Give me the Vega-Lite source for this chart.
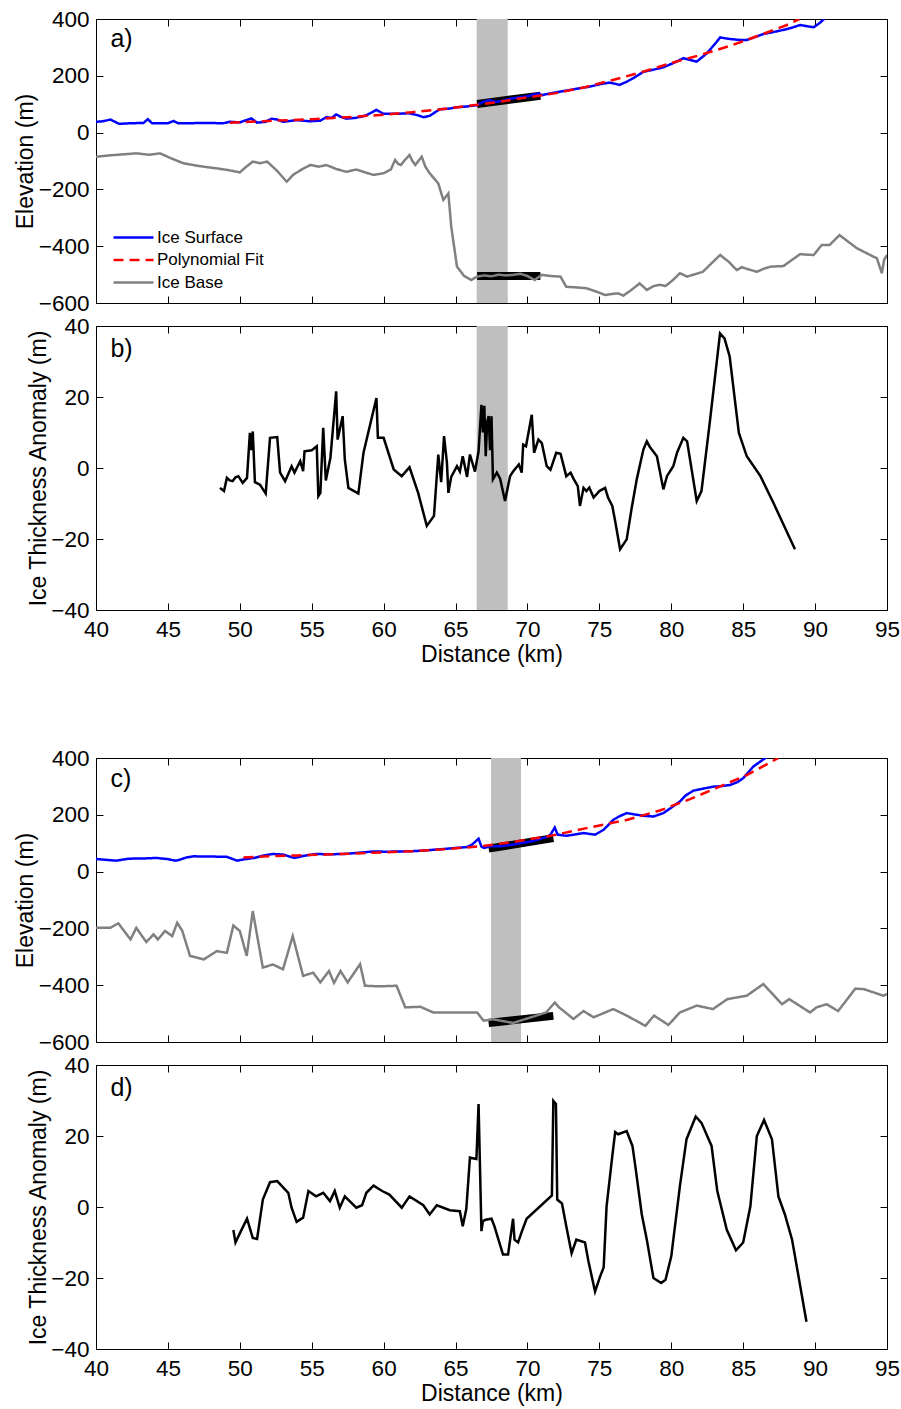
{
  "$schema": "https://vega.github.io/schema/vega-lite/v6.json",
  "padding": {"left": 13, "top": 7, "right": 5, "bottom": 5},
  "background": "white",
  "config": {
    "font": "Liberation Sans",
    "view": {"stroke": "black", "strokeWidth": 1},
    "axis": {"grid": false, "domain": false, "tickColor": "black", "tickWidth": 1, "tickSize": -7, "labelFontSize": 22.5, "labelFont": "Liberation Sans", "labelColor": "black", "titleFont": "Liberation Sans", "titleFontSize": 23, "titleFontWeight": "normal", "titleColor": "black", "labelFlush": false, "labelOverlap": false, "labelPadding": 14},
    "axisX": {"labelPadding": 15},
    "legend": {"orient": "none", "legendX": 29, "legendY": 210, "labelFontSize": 17, "labelFont": "Liberation Sans", "labelColor": "black", "symbolType": "M-4,0H4", "symbolSize": 100, "symbolStrokeWidth": 2.5, "labelOffset": 15, "rowPadding": 4.5, "padding": 0}
  },
  "datasets": {
    "band_ab": [{"x0": 66.47, "x1": 68.63}],
    "band_cd": [{"x0": 67.47, "x1": 69.55}],
    "bars_a": [
      {"seg": "surface", "km": 66.5, "v": 101}, {"seg": "surface", "km": 70.9, "v": 130},
      {"seg": "base", "km": 66.5, "v": -505}, {"seg": "base", "km": 70.9, "v": -505}
    ],
    "bars_c": [
      {"seg": "surface", "km": 67.3, "v": 81}, {"seg": "surface", "km": 71.8, "v": 118},
      {"seg": "base", "km": 67.3, "v": -533}, {"seg": "base", "km": 71.8, "v": -508}
    ],
    "lines_a": [
      {"series":"Ice Base","km":40.0,"v":-85},{"series":"Ice Base","km":41.0,"v":-80},{"series":"Ice Base","km":42.8,"v":-73},{"series":"Ice Base","km":43.7,"v":-78},{"series":"Ice Base","km":44.45,"v":-73},{"series":"Ice Base","km":45.2,"v":-90},{"series":"Ice Base","km":46.07,"v":-108},{"series":"Ice Base","km":47.2,"v":-118},{"series":"Ice Base","km":48.4,"v":-126},{"series":"Ice Base","km":49.2,"v":-132},{"series":"Ice Base","km":50.0,"v":-140},{"series":"Ice Base","km":50.5,"v":-118},{"series":"Ice Base","km":50.9,"v":-102},{"series":"Ice Base","km":51.4,"v":-108},{"series":"Ice Base","km":51.9,"v":-102},{"series":"Ice Base","km":52.6,"v":-135},{"series":"Ice Base","km":53.26,"v":-173},{"series":"Ice Base","km":53.7,"v":-149},{"series":"Ice Base","km":54.3,"v":-130},{"series":"Ice Base","km":54.9,"v":-114},{"series":"Ice Base","km":55.5,"v":-120},{"series":"Ice Base","km":56.0,"v":-114},{"series":"Ice Base","km":56.7,"v":-128},{"series":"Ice Base","km":57.4,"v":-138},{"series":"Ice Base","km":58.1,"v":-130},{"series":"Ice Base","km":58.7,"v":-140},{"series":"Ice Base","km":59.3,"v":-149},{"series":"Ice Base","km":60.0,"v":-143},{"series":"Ice Base","km":60.5,"v":-130},{"series":"Ice Base","km":60.8,"v":-96},{"series":"Ice Base","km":61.0,"v":-110},{"series":"Ice Base","km":61.2,"v":-114},{"series":"Ice Base","km":61.5,"v":-95},{"series":"Ice Base","km":61.8,"v":-79},{"series":"Ice Base","km":62.0,"v":-100},{"series":"Ice Base","km":62.2,"v":-114},{"series":"Ice Base","km":62.65,"v":-85},{"series":"Ice Base","km":62.9,"v":-120},{"series":"Ice Base","km":63.2,"v":-143},{"series":"Ice Base","km":63.8,"v":-179},{"series":"Ice Base","km":64.15,"v":-237},{"series":"Ice Base","km":64.5,"v":-214},{"series":"Ice Base","km":64.7,"v":-331},{"series":"Ice Base","km":65.1,"v":-472},{"series":"Ice Base","km":65.6,"v":-505},{"series":"Ice Base","km":66.1,"v":-519},{"series":"Ice Base","km":66.5,"v":-507},{"series":"Ice Base","km":67.0,"v":-503},{"series":"Ice Base","km":67.5,"v":-506},{"series":"Ice Base","km":68.0,"v":-500},{"series":"Ice Base","km":68.5,"v":-503},{"series":"Ice Base","km":69.0,"v":-501},{"series":"Ice Base","km":69.5,"v":-497},{"series":"Ice Base","km":70.0,"v":-505},{"series":"Ice Base","km":70.5,"v":-519},{"series":"Ice Base","km":71.0,"v":-501},{"series":"Ice Base","km":71.6,"v":-505},{"series":"Ice Base","km":72.3,"v":-507},{"series":"Ice Base","km":72.7,"v":-543},{"series":"Ice Base","km":73.4,"v":-545},{"series":"Ice Base","km":74.1,"v":-548},{"series":"Ice Base","km":74.8,"v":-560},{"series":"Ice Base","km":75.4,"v":-572},{"series":"Ice Base","km":75.9,"v":-568},{"series":"Ice Base","km":76.3,"v":-566},{"series":"Ice Base","km":76.67,"v":-574},{"series":"Ice Base","km":77.2,"v":-555},{"series":"Ice Base","km":77.8,"v":-531},{"series":"Ice Base","km":78.3,"v":-554},{"series":"Ice Base","km":78.8,"v":-540},{"series":"Ice Base","km":79.2,"v":-536},{"series":"Ice Base","km":79.6,"v":-540},{"series":"Ice Base","km":80.1,"v":-520},{"series":"Ice Base","km":80.6,"v":-495},{"series":"Ice Base","km":81.1,"v":-507},{"series":"Ice Base","km":81.7,"v":-498},{"series":"Ice Base","km":82.2,"v":-490},{"series":"Ice Base","km":82.8,"v":-460},{"series":"Ice Base","km":83.4,"v":-431},{"series":"Ice Base","km":84.0,"v":-455},{"series":"Ice Base","km":84.55,"v":-484},{"series":"Ice Base","km":84.9,"v":-474},{"series":"Ice Base","km":85.4,"v":-482},{"series":"Ice Base","km":85.95,"v":-490},{"series":"Ice Base","km":86.4,"v":-480},{"series":"Ice Base","km":86.9,"v":-472},{"series":"Ice Base","km":87.8,"v":-470},{"series":"Ice Base","km":88.4,"v":-448},{"series":"Ice Base","km":88.96,"v":-428},{"series":"Ice Base","km":89.5,"v":-430},{"series":"Ice Base","km":89.9,"v":-431},{"series":"Ice Base","km":90.46,"v":-396},{"series":"Ice Base","km":91.0,"v":-396},{"series":"Ice Base","km":91.7,"v":-361},{"series":"Ice Base","km":92.3,"v":-384},{"series":"Ice Base","km":92.9,"v":-407},{"series":"Ice Base","km":93.6,"v":-425},{"series":"Ice Base","km":94.3,"v":-443},{"series":"Ice Base","km":94.64,"v":-495},{"series":"Ice Base","km":94.8,"v":-448},{"series":"Ice Base","km":95.0,"v":-431},
      {"series":"Ice Surface","km":40.0,"v":38},{"series":"Ice Surface","km":40.5,"v":40},{"series":"Ice Surface","km":41.0,"v":46},{"series":"Ice Surface","km":41.6,"v":31},{"series":"Ice Surface","km":42.5,"v":33},{"series":"Ice Surface","km":43.3,"v":34},{"series":"Ice Surface","km":43.6,"v":47},{"series":"Ice Surface","km":43.9,"v":33},{"series":"Ice Surface","km":45.0,"v":33},{"series":"Ice Surface","km":45.4,"v":41},{"series":"Ice Surface","km":45.7,"v":33},{"series":"Ice Surface","km":46.5,"v":33},{"series":"Ice Surface","km":47.5,"v":34},{"series":"Ice Surface","km":48.85,"v":33},{"series":"Ice Surface","km":49.3,"v":38},{"series":"Ice Surface","km":50.0,"v":36},{"series":"Ice Surface","km":50.8,"v":50},{"series":"Ice Surface","km":51.2,"v":35},{"series":"Ice Surface","km":51.8,"v":38},{"series":"Ice Surface","km":52.2,"v":49},{"series":"Ice Surface","km":52.6,"v":46},{"series":"Ice Surface","km":53.0,"v":38},{"series":"Ice Surface","km":54.0,"v":44},{"series":"Ice Surface","km":54.8,"v":40},{"series":"Ice Surface","km":55.6,"v":42},{"series":"Ice Surface","km":56.0,"v":54},{"series":"Ice Surface","km":56.4,"v":52},{"series":"Ice Surface","km":56.7,"v":64},{"series":"Ice Surface","km":57.0,"v":56},{"series":"Ice Surface","km":57.4,"v":49},{"series":"Ice Surface","km":58.1,"v":52},{"series":"Ice Surface","km":58.8,"v":61},{"series":"Ice Surface","km":59.5,"v":80},{"series":"Ice Surface","km":60.0,"v":66},{"series":"Ice Surface","km":60.8,"v":66},{"series":"Ice Surface","km":61.8,"v":68},{"series":"Ice Surface","km":62.3,"v":62},{"series":"Ice Surface","km":62.8,"v":54},{"series":"Ice Surface","km":63.2,"v":59},{"series":"Ice Surface","km":63.9,"v":82},{"series":"Ice Surface","km":64.5,"v":84},{"series":"Ice Surface","km":65.1,"v":89},{"series":"Ice Surface","km":65.8,"v":92},{"series":"Ice Surface","km":66.5,"v":97},{"series":"Ice Surface","km":67.0,"v":110},{"series":"Ice Surface","km":67.4,"v":114},{"series":"Ice Surface","km":67.8,"v":108},{"series":"Ice Surface","km":68.3,"v":112},{"series":"Ice Surface","km":69.0,"v":121},{"series":"Ice Surface","km":70.0,"v":128},{"series":"Ice Surface","km":70.76,"v":138},{"series":"Ice Surface","km":71.0,"v":132},{"series":"Ice Surface","km":71.8,"v":140},{"series":"Ice Surface","km":72.7,"v":148},{"series":"Ice Surface","km":73.5,"v":155},{"series":"Ice Surface","km":74.35,"v":162},{"series":"Ice Surface","km":75.0,"v":170},{"series":"Ice Surface","km":75.7,"v":176},{"series":"Ice Surface","km":76.1,"v":172},{"series":"Ice Surface","km":76.4,"v":168},{"series":"Ice Surface","km":76.9,"v":179},{"series":"Ice Surface","km":77.5,"v":196},{"series":"Ice Surface","km":78.06,"v":214},{"series":"Ice Surface","km":78.8,"v":222},{"series":"Ice Surface","km":79.45,"v":230},{"series":"Ice Surface","km":80.2,"v":246},{"series":"Ice Surface","km":80.84,"v":262},{"series":"Ice Surface","km":81.3,"v":256},{"series":"Ice Surface","km":81.77,"v":250},{"series":"Ice Surface","km":82.47,"v":279},{"series":"Ice Surface","km":83.0,"v":310},{"series":"Ice Surface","km":83.4,"v":335},{"series":"Ice Surface","km":84.0,"v":330},{"series":"Ice Surface","km":84.8,"v":326},{"series":"Ice Surface","km":85.25,"v":326},{"series":"Ice Surface","km":85.8,"v":336},{"series":"Ice Surface","km":86.4,"v":347},{"series":"Ice Surface","km":87.0,"v":353},{"series":"Ice Surface","km":87.57,"v":359},{"series":"Ice Surface","km":88.3,"v":368},{"series":"Ice Surface","km":88.96,"v":379},{"series":"Ice Surface","km":89.5,"v":374},{"series":"Ice Surface","km":89.9,"v":371},{"series":"Ice Surface","km":90.3,"v":385},{"series":"Ice Surface","km":90.8,"v":408},
      {"series":"Polynomial Fit","km":49.3,"v":35},{"series":"Polynomial Fit","km":52,"v":41},{"series":"Polynomial Fit","km":55,"v":47},{"series":"Polynomial Fit","km":58,"v":56},{"series":"Polynomial Fit","km":60,"v":63},{"series":"Polynomial Fit","km":62,"v":72},{"series":"Polynomial Fit","km":64,"v":82},{"series":"Polynomial Fit","km":66,"v":95},{"series":"Polynomial Fit","km":68,"v":108},{"series":"Polynomial Fit","km":70,"v":124},{"series":"Polynomial Fit","km":72,"v":139},{"series":"Polynomial Fit","km":74,"v":160},{"series":"Polynomial Fit","km":76,"v":186},{"series":"Polynomial Fit","km":78,"v":214},{"series":"Polynomial Fit","km":80,"v":245},{"series":"Polynomial Fit","km":82,"v":273},{"series":"Polynomial Fit","km":84,"v":304},{"series":"Polynomial Fit","km":86,"v":340},{"series":"Polynomial Fit","km":88,"v":378},{"series":"Polynomial Fit","km":88.9,"v":400}
    ],
    "anom_b": [
      {"km":48.62,"v":-5.6},{"km":48.9,"v":-6.5},{"km":49.1,"v":-2.8},{"km":49.3,"v":-3.5},{"km":49.5,"v":-3.7},{"km":49.7,"v":-2.6},{"km":49.9,"v":-2.3},{"km":50.2,"v":-4.2},{"km":50.5,"v":-2.8},{"km":50.7,"v":9.9},{"km":50.8,"v":5},{"km":50.9,"v":10.3},{"km":51.05,"v":-4},{"km":51.4,"v":-4.7},{"km":51.8,"v":-7.2},{"km":52.1,"v":8.5},{"km":52.6,"v":8.7},{"km":52.8,"v":-1.3},{"km":53.15,"v":-3.7},{"km":53.6,"v":0.5},{"km":53.8,"v":-1.3},{"km":54.2,"v":1.9},{"km":54.4,"v":-0.9},{"km":54.5,"v":4.7},{"km":55.0,"v":5},{"km":55.35,"v":6.1},{"km":55.46,"v":-7.9},{"km":55.6,"v":-7},{"km":55.8,"v":11.3},{"km":55.98,"v":-3.5},{"km":56.3,"v":2.9},{"km":56.7,"v":21.6},{"km":56.8,"v":8},{"km":57.15,"v":14.6},{"km":57.3,"v":2.4},{"km":57.55,"v":-5.6},{"km":58.24,"v":-7.2},{"km":58.6,"v":4.3},{"km":59.5,"v":19.7},{"km":59.6,"v":8.5},{"km":60.0,"v":8.5},{"km":60.7,"v":-0.4},{"km":61.26,"v":-2.3},{"km":61.8,"v":0.2},{"km":62.4,"v":-7},{"km":63.0,"v":-16.3},{"km":63.5,"v":-13.5},{"km":63.8,"v":3.8},{"km":64.0,"v":-4},{"km":64.2,"v":9},{"km":64.4,"v":1.5},{"km":64.5,"v":-7},{"km":64.7,"v":-2.5},{"km":65.1,"v":0.5},{"km":65.3,"v":-1},{"km":65.5,"v":3.3},{"km":65.8,"v":-2.5},{"km":66.0,"v":3.8},{"km":66.35,"v":-1},{"km":66.6,"v":4.7},{"km":66.8,"v":17.8},{"km":66.9,"v":10},{"km":67.0,"v":17.5},{"km":67.1,"v":3.3},{"km":67.2,"v":13},{"km":67.3,"v":14.6},{"km":67.4,"v":5},{"km":67.5,"v":14.6},{"km":67.6,"v":-3.2},{"km":67.87,"v":-1.3},{"km":68.1,"v":-3},{"km":68.44,"v":-9.3},{"km":68.79,"v":-2.3},{"km":69.0,"v":-1},{"km":69.4,"v":1},{"km":69.6,"v":-1.3},{"km":69.7,"v":6.6},{"km":69.9,"v":6.1},{"km":70.3,"v":15},{"km":70.46,"v":4.3},{"km":70.76,"v":8},{"km":71.0,"v":7},{"km":71.34,"v":0.5},{"km":71.6,"v":-0.5},{"km":72.0,"v":4.3},{"km":72.3,"v":4},{"km":72.7,"v":-2.3},{"km":73.0,"v":-1.3},{"km":73.2,"v":-3},{"km":73.5,"v":-5.1},{"km":73.65,"v":-10.7},{"km":73.9,"v":-5.6},{"km":74.1,"v":-6.5},{"km":74.3,"v":-5.5},{"km":74.6,"v":-8.3},{"km":75.0,"v":-6.5},{"km":75.4,"v":-5.6},{"km":75.6,"v":-8.3},{"km":75.9,"v":-10.7},{"km":76.1,"v":-15},{"km":76.44,"v":-22.9},{"km":76.9,"v":-20.1},{"km":77.25,"v":-11.2},{"km":77.6,"v":-3.2},{"km":78.06,"v":5.2},{"km":78.3,"v":7.5},{"km":78.5,"v":6},{"km":79.0,"v":3.3},{"km":79.45,"v":-6},{"km":79.7,"v":-2.3},{"km":80.14,"v":0.5},{"km":80.4,"v":4.3},{"km":80.84,"v":8.5},{"km":81.1,"v":7.5},{"km":81.77,"v":-9.3},{"km":82.1,"v":-6.5},{"km":82.7,"v":13.6},{"km":83.39,"v":37.9},{"km":83.7,"v":36.5},{"km":84.06,"v":31.4},{"km":84.7,"v":9.9},{"km":85.25,"v":3.3},{"km":86.2,"v":-2.3},{"km":87.1,"v":-9.8},{"km":88.6,"v":-22.9}
    ],
    "lines_c": [
      {"series":"Ice Base","km":40.0,"v":-198},{"series":"Ice Base","km":41.0,"v":-198},{"series":"Ice Base","km":41.55,"v":-182},{"series":"Ice Base","km":42.4,"v":-239},{"series":"Ice Base","km":42.8,"v":-198},{"series":"Ice Base","km":43.5,"v":-248},{"series":"Ice Base","km":44.0,"v":-221},{"series":"Ice Base","km":44.3,"v":-239},{"series":"Ice Base","km":44.8,"v":-209},{"series":"Ice Base","km":45.3,"v":-227},{"series":"Ice Base","km":45.65,"v":-180},{"series":"Ice Base","km":46.0,"v":-209},{"series":"Ice Base","km":46.54,"v":-297},{"series":"Ice Base","km":47.5,"v":-309},{"series":"Ice Base","km":48.4,"v":-280},{"series":"Ice Base","km":49.1,"v":-286},{"series":"Ice Base","km":49.55,"v":-190},{"series":"Ice Base","km":50.0,"v":-209},{"series":"Ice Base","km":50.48,"v":-297},{"series":"Ice Base","km":50.9,"v":-139},{"series":"Ice Base","km":51.6,"v":-338},{"series":"Ice Base","km":52.3,"v":-327},{"series":"Ice Base","km":53.0,"v":-344},{"series":"Ice Base","km":53.68,"v":-227},{"series":"Ice Base","km":54.4,"v":-367},{"series":"Ice Base","km":55.1,"v":-356},{"series":"Ice Base","km":55.6,"v":-390},{"series":"Ice Base","km":56.2,"v":-350},{"series":"Ice Base","km":56.55,"v":-392},{"series":"Ice Base","km":57.0,"v":-350},{"series":"Ice Base","km":57.5,"v":-390},{"series":"Ice Base","km":58.36,"v":-326},{"series":"Ice Base","km":58.7,"v":-402},{"series":"Ice Base","km":59.7,"v":-404},{"series":"Ice Base","km":60.9,"v":-402},{"series":"Ice Base","km":61.5,"v":-478},{"series":"Ice Base","km":62.56,"v":-476},{"series":"Ice Base","km":63.45,"v":-496},{"series":"Ice Base","km":65.1,"v":-496},{"series":"Ice Base","km":66.5,"v":-496},{"series":"Ice Base","km":66.95,"v":-525},{"series":"Ice Base","km":67.6,"v":-520},{"series":"Ice Base","km":69.0,"v":-533},{"series":"Ice Base","km":71.3,"v":-496},{"series":"Ice Base","km":71.9,"v":-461},{"series":"Ice Base","km":72.2,"v":-478},{"series":"Ice Base","km":73.2,"v":-519},{"series":"Ice Base","km":73.9,"v":-491},{"series":"Ice Base","km":74.6,"v":-513},{"series":"Ice Base","km":75.97,"v":-484},{"series":"Ice Base","km":76.9,"v":-507},{"series":"Ice Base","km":78.2,"v":-543},{"series":"Ice Base","km":78.8,"v":-507},{"series":"Ice Base","km":79.8,"v":-540},{"series":"Ice Base","km":80.6,"v":-496},{"series":"Ice Base","km":81.77,"v":-472},{"series":"Ice Base","km":82.9,"v":-484},{"series":"Ice Base","km":83.9,"v":-449},{"series":"Ice Base","km":85.25,"v":-437},{"series":"Ice Base","km":86.4,"v":-396},{"series":"Ice Base","km":87.7,"v":-467},{"series":"Ice Base","km":88.2,"v":-449},{"series":"Ice Base","km":89.65,"v":-496},{"series":"Ice Base","km":90.1,"v":-478},{"series":"Ice Base","km":90.8,"v":-467},{"series":"Ice Base","km":91.6,"v":-491},{"series":"Ice Base","km":92.8,"v":-412},{"series":"Ice Base","km":93.4,"v":-414},{"series":"Ice Base","km":94.75,"v":-437},{"series":"Ice Base","km":95.0,"v":-431},
      {"series":"Ice Surface","km":40.0,"v":44.5},{"series":"Ice Surface","km":41.0,"v":40},{"series":"Ice Surface","km":41.4,"v":38.6},{"series":"Ice Surface","km":42.3,"v":45.6},{"series":"Ice Surface","km":43.2,"v":46},{"series":"Ice Surface","km":44.2,"v":48},{"series":"Ice Surface","km":45.0,"v":44},{"series":"Ice Surface","km":45.5,"v":38.6},{"series":"Ice Surface","km":45.7,"v":40},{"series":"Ice Surface","km":46.3,"v":50},{"series":"Ice Surface","km":46.8,"v":53.7},{"series":"Ice Surface","km":48.0,"v":53},{"series":"Ice Surface","km":49.1,"v":52},{"series":"Ice Surface","km":49.8,"v":38.6},{"series":"Ice Surface","km":50.4,"v":44},{"series":"Ice Surface","km":51.0,"v":48},{"series":"Ice Surface","km":51.7,"v":57},{"series":"Ice Surface","km":52.3,"v":62},{"series":"Ice Surface","km":53.0,"v":60},{"series":"Ice Surface","km":53.4,"v":54},{"series":"Ice Surface","km":53.8,"v":48},{"series":"Ice Surface","km":54.5,"v":56},{"series":"Ice Surface","km":55.3,"v":62},{"series":"Ice Surface","km":56.2,"v":61},{"series":"Ice Surface","km":57.2,"v":62},{"series":"Ice Surface","km":58.2,"v":66},{"series":"Ice Surface","km":59.3,"v":71},{"series":"Ice Surface","km":60.2,"v":70},{"series":"Ice Surface","km":61.2,"v":71},{"series":"Ice Surface","km":62.0,"v":72},{"series":"Ice Surface","km":62.76,"v":74},{"series":"Ice Surface","km":63.5,"v":77},{"series":"Ice Surface","km":64.15,"v":79.6},{"series":"Ice Surface","km":65.0,"v":83},{"series":"Ice Surface","km":65.8,"v":86.6},{"series":"Ice Surface","km":66.15,"v":95},{"series":"Ice Surface","km":66.6,"v":115.8},{"series":"Ice Surface","km":66.8,"v":88},{"series":"Ice Surface","km":67.0,"v":83},{"series":"Ice Surface","km":67.4,"v":89},{"series":"Ice Surface","km":68.1,"v":89},{"series":"Ice Surface","km":69.0,"v":95},{"series":"Ice Surface","km":70.2,"v":106},{"series":"Ice Surface","km":71.34,"v":121.6},{"series":"Ice Surface","km":71.6,"v":130},{"series":"Ice Surface","km":71.9,"v":155.4},{"series":"Ice Surface","km":72.1,"v":130},{"series":"Ice Surface","km":72.7,"v":126},{"series":"Ice Surface","km":73.2,"v":130},{"series":"Ice Surface","km":73.9,"v":135.7},{"series":"Ice Surface","km":74.7,"v":130},{"series":"Ice Surface","km":75.3,"v":147.4},{"series":"Ice Surface","km":75.97,"v":182.5},{"series":"Ice Surface","km":76.4,"v":195},{"series":"Ice Surface","km":76.9,"v":206},{"series":"Ice Surface","km":77.6,"v":200},{"series":"Ice Surface","km":78.2,"v":196},{"series":"Ice Surface","km":78.76,"v":194},{"series":"Ice Surface","km":79.45,"v":206},{"series":"Ice Surface","km":80.0,"v":225},{"series":"Ice Surface","km":80.6,"v":247},{"series":"Ice Surface","km":81.0,"v":268},{"series":"Ice Surface","km":81.54,"v":285},{"series":"Ice Surface","km":82.2,"v":292},{"series":"Ice Surface","km":82.9,"v":299},{"series":"Ice Surface","km":83.5,"v":301},{"series":"Ice Surface","km":84.1,"v":305},{"series":"Ice Surface","km":84.6,"v":315},{"series":"Ice Surface","km":85.0,"v":329},{"series":"Ice Surface","km":85.7,"v":369.6},{"series":"Ice Surface","km":86.4,"v":395},{"series":"Ice Surface","km":86.7,"v":406},
      {"series":"Polynomial Fit","km":50.25,"v":50},{"series":"Polynomial Fit","km":52,"v":54},{"series":"Polynomial Fit","km":54,"v":57},{"series":"Polynomial Fit","km":56,"v":60},{"series":"Polynomial Fit","km":58,"v":64},{"series":"Polynomial Fit","km":60,"v":68},{"series":"Polynomial Fit","km":62,"v":72},{"series":"Polynomial Fit","km":64,"v":78},{"series":"Polynomial Fit","km":66,"v":86},{"series":"Polynomial Fit","km":67,"v":91},{"series":"Polynomial Fit","km":69,"v":104},{"series":"Polynomial Fit","km":71.8,"v":128},{"series":"Polynomial Fit","km":74.1,"v":153},{"series":"Polynomial Fit","km":76.9,"v":182},{"series":"Polynomial Fit","km":79.2,"v":215},{"series":"Polynomial Fit","km":81.3,"v":255},{"series":"Polynomial Fit","km":83.4,"v":300},{"series":"Polynomial Fit","km":85.25,"v":340},{"series":"Polynomial Fit","km":87.45,"v":400}
    ],
    "anom_d": [
      {"km":49.55,"v":-6.5},{"km":49.7,"v":-10},{"km":50.05,"v":-7},{"km":50.5,"v":-3.3},{"km":50.9,"v":-8.7},{"km":51.2,"v":-9},{"km":51.6,"v":2.1},{"km":52.1,"v":7},{"km":52.6,"v":7.3},{"km":53.37,"v":4},{"km":53.6,"v":-0.2},{"km":53.95,"v":-4.2},{"km":54.4,"v":-3},{"km":54.77,"v":4.5},{"km":55.3,"v":3},{"km":55.8,"v":4},{"km":56.27,"v":1.65},{"km":56.6,"v":4.5},{"km":56.95,"v":-0.2},{"km":57.3,"v":3},{"km":58.1,"v":-0.2},{"km":58.5,"v":0.5},{"km":58.8,"v":4},{"km":59.3,"v":6},{"km":59.9,"v":4.5},{"km":60.4,"v":3.5},{"km":61.26,"v":-0.2},{"km":61.8,"v":3},{"km":62.76,"v":0.5},{"km":63.2,"v":-2.1},{"km":63.7,"v":0.5},{"km":64.6,"v":-0.9},{"km":65.3,"v":-1.2},{"km":65.5,"v":-5.4},{"km":65.75,"v":-0.5},{"km":66.0,"v":13.9},{"km":66.45,"v":13.5},{"km":66.6,"v":29},{"km":66.8,"v":-6.8},{"km":66.9,"v":-4},{"km":67.1,"v":-3.6},{"km":67.5,"v":-3.3},{"km":67.7,"v":-5.4},{"km":68.3,"v":-13.4},{"km":68.65,"v":-13.4},{"km":69.0,"v":-3.3},{"km":69.1,"v":-9.2},{"km":69.35,"v":-10},{"km":69.6,"v":-7},{"km":69.94,"v":-3.3},{"km":71.7,"v":3.25},{"km":71.8,"v":29.9},{"km":71.98,"v":29},{"km":72.07,"v":2.1},{"km":72.4,"v":1},{"km":72.7,"v":-5.4},{"km":73.07,"v":-13},{"km":73.4,"v":-9.2},{"km":74.0,"v":-10},{"km":74.24,"v":-15.3},{"km":74.7,"v":-23.8},{"km":75.05,"v":-19.6},{"km":75.3,"v":-17},{"km":75.5,"v":0.1},{"km":75.9,"v":14.4},{"km":76.1,"v":21.1},{"km":76.3,"v":20.5},{"km":76.9,"v":21.4},{"km":77.3,"v":17.2},{"km":77.5,"v":11.5},{"km":77.95,"v":-2.1},{"km":78.3,"v":-9.2},{"km":78.76,"v":-20},{"km":79.3,"v":-21.4},{"km":79.6,"v":-20.5},{"km":80.0,"v":-13.9},{"km":80.6,"v":5.9},{"km":81.06,"v":19.1},{"km":81.7,"v":25.5},{"km":82.1,"v":23.7},{"km":82.8,"v":17.2},{"km":83.2,"v":4.5},{"km":83.86,"v":-6.4},{"km":84.5,"v":-12.2},{"km":85.0,"v":-10},{"km":85.5,"v":0.2},{"km":85.95,"v":20},{"km":86.45,"v":24.5},{"km":87.0,"v":19.1},{"km":87.45,"v":3},{"km":87.9,"v":-2.1},{"km":88.4,"v":-9.2},{"km":89.4,"v":-32.3}
    ]
  },
  "spacing": 79,
  "vconcat": [
    {
      "spacing": -1,
      "vconcat": [
        {
          "width": 791, "height": 284,
          "resolve": {"axis": {"x": "independent", "y": "independent"}},
          "layer": [
            {
              "data": {"name": "band_ab"},
              "mark": {"type": "rect", "color": "#bfbfbf"},
              "encoding": {
                "x": {"field": "x0", "type": "quantitative", "scale": {"domain": [40, 95], "nice": false, "zero": false}, "axis": {"orient": "top", "labels": false, "title": null, "values": [40,45,50,55,60,65,70,75,80,85,90,95]}},
                "x2": {"field": "x1"}
              }
            },
            {
              "data": {"name": "bars_a"},
              "mark": {"type": "line", "color": "black", "strokeWidth": 8, "strokeCap": "butt"},
              "encoding": {
                "x": {"field": "km", "type": "quantitative", "axis": null},
                "y": {"field": "v", "type": "quantitative", "scale": {"domain": [-600, 400], "nice": false, "zero": false}, "axis": {"orient": "right", "labels": false, "title": null, "values": [-600,-400,-200,0,200,400]}},
                "detail": {"field": "seg", "type": "nominal"}
              }
            },
            {
              "data": {"name": "lines_a"},
              "mark": {"type": "line", "strokeWidth": 2.5, "clip": true},
              "encoding": {
                "x": {"field": "km", "type": "quantitative", "axis": {"orient": "bottom", "labels": false, "title": null, "values": [40,45,50,55,60,65,70,75,80,85,90,95]}},
                "y": {"field": "v", "type": "quantitative", "axis": {"orient": "left", "title": "Elevation (m)", "titleX": -63.7, "titleBaseline": "alphabetic", "values": [-600,-400,-200,0,200,400]}},
                "color": {"field": "series", "type": "nominal", "scale": {"domain": ["Ice Surface", "Polynomial Fit", "Ice Base"], "range": ["#0000ff", "#ff0000", "#808080"]}, "legend": {"title": null}},
                "strokeDash": {"field": "series", "type": "nominal", "scale": {"domain": ["Ice Surface", "Polynomial Fit", "Ice Base"], "range": [[1, 0], [10, 6], [1, 0]]}, "legend": {"title": null}}
              }
            },
            {
              "data": {"values": [{}]},
              "mark": {"type": "text", "text": "a)", "align": "left", "baseline": "alphabetic", "fontSize": 25, "color": "black"},
              "encoding": {
                "x": {"datum": 41.0, "type": "quantitative", "axis": null},
                "y": {"datum": 300, "type": "quantitative", "axis": null}
              }
            }
          ]
        },
        {
          "width": 791, "height": 284,
          "resolve": {"axis": {"x": "independent", "y": "independent"}},
          "layer": [
            {
              "data": {"name": "band_ab"},
              "mark": {"type": "rect", "color": "#bfbfbf"},
              "encoding": {
                "x": {"field": "x0", "type": "quantitative", "scale": {"domain": [40, 95], "nice": false, "zero": false}, "axis": {"orient": "top", "labels": false, "title": null, "values": [40,45,50,55,60,65,70,75,80,85,90,95]}},
                "x2": {"field": "x1"}
              }
            },
            {
              "data": {"name": "anom_b"},
              "mark": {"type": "line", "strokeWidth": 2.5, "color": "black", "clip": true},
              "encoding": {
                "x": {"field": "km", "type": "quantitative", "axis": {"orient": "bottom", "title": "Distance (km)", "titleY": 51, "titleBaseline": "alphabetic", "values": [40,45,50,55,60,65,70,75,80,85,90,95]}},
                "y": {"field": "v", "type": "quantitative", "scale": {"domain": [-40, 40], "nice": false, "zero": false}, "axis": {"orient": "left", "title": "Ice Thickness Anomaly (m)", "titleX": -51, "titleBaseline": "alphabetic", "values": [-40,-20,0,20,40]}}
              }
            },
            {
              "data": {"values": [{}]},
              "mark": {"type": "text", "text": "b)", "align": "left", "baseline": "alphabetic", "fontSize": 25, "color": "black"},
              "encoding": {
                "x": {"datum": 41.0, "type": "quantitative", "axis": null},
                "y": {"datum": 31.2, "type": "quantitative", "axis": {"orient": "right", "labels": false, "title": null, "values": [-40,-20,0,20,40]}}
              }
            }
          ]
        }
      ]
    },
    {
      "spacing": -1,
      "vconcat": [
        {
          "width": 791, "height": 284,
          "resolve": {"axis": {"x": "independent", "y": "independent"}},
          "layer": [
            {
              "data": {"name": "band_cd"},
              "mark": {"type": "rect", "color": "#bfbfbf"},
              "encoding": {
                "x": {"field": "x0", "type": "quantitative", "scale": {"domain": [40, 95], "nice": false, "zero": false}, "axis": {"orient": "top", "labels": false, "title": null, "values": [40,45,50,55,60,65,70,75,80,85,90,95]}},
                "x2": {"field": "x1"}
              }
            },
            {
              "data": {"name": "bars_c"},
              "mark": {"type": "line", "color": "black", "strokeWidth": 8, "strokeCap": "butt"},
              "encoding": {
                "x": {"field": "km", "type": "quantitative", "axis": null},
                "y": {"field": "v", "type": "quantitative", "scale": {"domain": [-600, 400], "nice": false, "zero": false}, "axis": {"orient": "right", "labels": false, "title": null, "values": [-600,-400,-200,0,200,400]}},
                "detail": {"field": "seg", "type": "nominal"}
              }
            },
            {
              "data": {"name": "lines_c"},
              "mark": {"type": "line", "strokeWidth": 2.5, "clip": true},
              "encoding": {
                "x": {"field": "km", "type": "quantitative", "axis": {"orient": "bottom", "labels": false, "title": null, "values": [40,45,50,55,60,65,70,75,80,85,90,95]}},
                "y": {"field": "v", "type": "quantitative", "axis": {"orient": "left", "title": "Elevation (m)", "titleX": -63.7, "titleBaseline": "alphabetic", "values": [-600,-400,-200,0,200,400]}},
                "color": {"field": "series", "type": "nominal", "scale": {"domain": ["Ice Surface", "Polynomial Fit", "Ice Base"], "range": ["#0000ff", "#ff0000", "#808080"]}, "legend": null},
                "strokeDash": {"field": "series", "type": "nominal", "scale": {"domain": ["Ice Surface", "Polynomial Fit", "Ice Base"], "range": [[1, 0], [10, 6], [1, 0]]}, "legend": null}
              }
            },
            {
              "data": {"values": [{}]},
              "mark": {"type": "text", "text": "c)", "align": "left", "baseline": "alphabetic", "fontSize": 25, "color": "black"},
              "encoding": {
                "x": {"datum": 41.0, "type": "quantitative", "axis": null},
                "y": {"datum": 297, "type": "quantitative", "axis": null}
              }
            }
          ]
        },
        {
          "width": 791, "height": 284,
          "resolve": {"axis": {"x": "independent", "y": "independent"}},
          "layer": [
            {
              "data": {"name": "band_cd"},
              "mark": {"type": "rect", "color": "#ffffff", "opacity": 0},
              "encoding": {
                "x": {"field": "x0", "type": "quantitative", "scale": {"domain": [40, 95], "nice": false, "zero": false}, "axis": {"orient": "top", "labels": false, "title": null, "values": [40,45,50,55,60,65,70,75,80,85,90,95]}},
                "x2": {"field": "x1"}
              }
            },
            {
              "data": {"name": "anom_d"},
              "mark": {"type": "line", "strokeWidth": 2.5, "color": "black", "clip": true},
              "encoding": {
                "x": {"field": "km", "type": "quantitative", "axis": {"orient": "bottom", "title": "Distance (km)", "titleY": 51, "titleBaseline": "alphabetic", "values": [40,45,50,55,60,65,70,75,80,85,90,95]}},
                "y": {"field": "v", "type": "quantitative", "scale": {"domain": [-40, 40], "nice": false, "zero": false}, "axis": {"orient": "left", "title": "Ice Thickness Anomaly (m)", "titleX": -51, "titleBaseline": "alphabetic", "values": [-40,-20,0,20,40]}}
              }
            },
            {
              "data": {"values": [{}]},
              "mark": {"type": "text", "text": "d)", "align": "left", "baseline": "alphabetic", "fontSize": 25, "color": "black"},
              "encoding": {
                "x": {"datum": 41.0, "type": "quantitative", "axis": null},
                "y": {"datum": 31.3, "type": "quantitative", "axis": {"orient": "right", "labels": false, "title": null, "values": [-40,-20,0,20,40]}}
              }
            }
          ]
        }
      ]
    }
  ]
}
